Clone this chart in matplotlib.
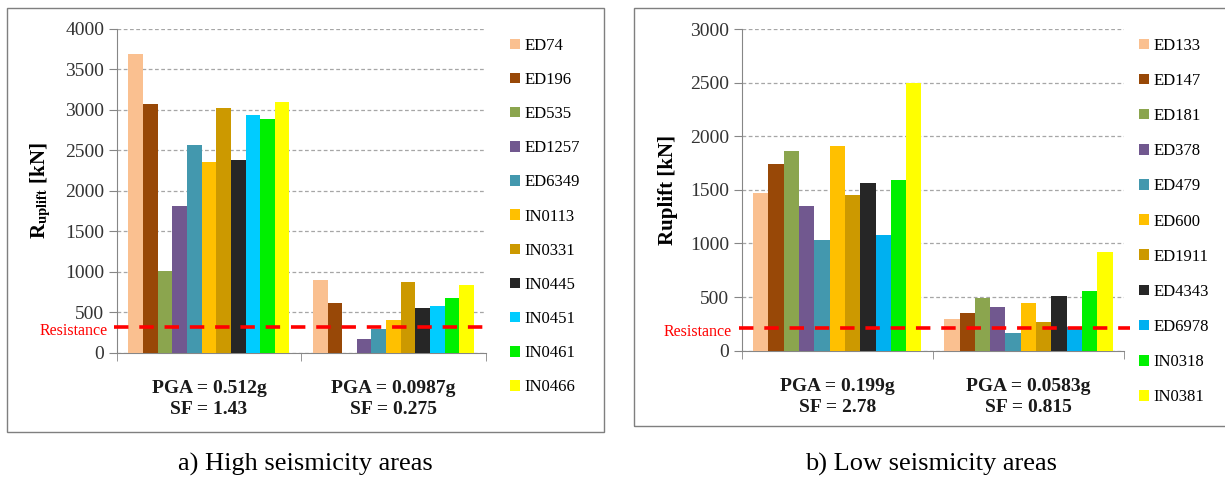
import matplotlib
matplotlib.use("Agg")
import matplotlib.pyplot as plt
from matplotlib.patches import Rectangle
import matplotlib.transforms as mtransforms
import numpy as np

plt.rcParams['font.family'] = ['Liberation Serif', 'DejaVu Serif']
plt.rcParams['mathtext.fontset'] = 'stix'

# ---- data ----
groups_high = ["PGA = 0.512g\nSF = 1.43", "PGA = 0.0987g\nSF = 0.275"]
records_high = ["ED74", "ED196", "ED535", "ED1257", "ED6349", "IN0113",
                "IN0331", "IN0445", "IN0451", "IN0461", "IN0466"]
uplift_high_1 = [3690, 3075, 1013, 1812, 2561, 2359, 3018, 2384, 2932, 2886, 3100]
uplift_high_2 = [894, 617, 0, 165, 296, 404, 869, 548, 577, 679, 836]
resistance_high = 320

groups_low = ["PGA = 0.199g\nSF = 2.78", "PGA = 0.0583g\nSF = 0.815"]
records_low = ["ED133", "ED147", "ED181", "ED378", "ED479", "ED600",
               "ED1911", "ED4343", "ED6978", "IN0318", "IN0381"]
uplift_low_1 = [1468, 1741, 1865, 1352, 1029, 1909, 1449, 1564, 1079, 1592, 2494]
uplift_low_2 = [295, 349, 489, 410, 162, 445, 270, 507, 224, 560, 920]
resistance_low = 215

colors_high = ['#FAC090', '#984807', '#8BA54E', '#71588F', '#4398AE', '#FFC000',
               '#CC9900', '#262626', '#00CCFF', '#00F000', '#FFFF00']
colors_low = ['#FAC090', '#984807', '#8BA54E', '#71588F', '#4398AE', '#FFC000',
              '#CC9900', '#262626', '#00B0F0', '#00F000', '#FFFF00']

W, H = 1225, 479
fig = plt.figure(figsize=(W / 100, H / 100), dpi=100)


def px_axes(x0, y_top, x1, y_bot):
    return fig.add_axes([x0 / W, (H - y_bot) / H, (x1 - x0) / W, (y_bot - y_top) / H])


def draw_panel(ax, groups, records, vals1, vals2, colors, ymax, res, ylabel, occupy):
    n = len(records)
    bw = occupy / n
    x = np.arange(len(groups))
    handles = []
    for i in range(n):
        h = ax.bar(x - occupy / 2 + bw * (i + 0.5), [vals1[i], vals2[i]], bw,
                   color=colors[i], zorder=3)
        handles.append(h)
    ax.set_xlim(-0.5, 1.5)
    ax.set_ylim(0, ymax)
    ax.set_yticks(np.arange(0, ymax + 1, 500))
    ax.yaxis.grid(True, color='#a6a6a6', linestyle=(0, (3, 2)), lw=0.9, zorder=0)
    ax.set_xticks(x)
    ax.set_xticklabels(groups, fontsize=14, fontweight='bold', linespacing=1.25, color='#1a1a1a')
    ax.set_xticks([-0.5, 0.5, 1.5], minor=True)
    ax.tick_params(axis='x', which='major', length=0, pad=20)
    ax.tick_params(axis='x', which='minor', length=6, color='#868686', direction='out')
    ax.tick_params(axis='y', length=6, color='#868686', labelsize=14, labelcolor='#333333', pad=3)
    for s in ['top', 'right']:
        ax.spines[s].set_visible(False)
    for s in ['left', 'bottom']:
        ax.spines[s].set_color('#868686')
    ax.axhline(res, xmin=-0.008, xmax=1.015, color='#FF0000', lw=2.6,
               linestyle=(0, (4, 3)), clip_on=False, zorder=5)
    shift = mtransforms.ScaledTranslation(0, -3 / 72, fig.dpi_scale_trans)
    ax.text(-0.025, res, "Resistance", transform=ax.get_yaxis_transform() + shift,
            color='#FF0000', fontsize=11.5, ha='right', va='center')
    ax.set_ylabel(ylabel, fontsize=15, fontweight='bold', labelpad=9)
    return handles


# left panel
fig.add_artist(Rectangle((7 / W, (H - 432) / H), (604 - 7) / W, (432 - 8) / H,
                         transform=fig.transFigure, fill=False, edgecolor='#7f7f7f', lw=1))
ax1 = px_axes(116.7, 28.7, 485.7, 352.7)
h1 = draw_panel(ax1, groups_high, records_high, uplift_high_1, uplift_high_2, colors_high,
                4000, resistance_high, r'R$_{\mathbf{uplift}}$ [kN]', 0.873)
fig.legend(h1, records_high, loc='upper left', bbox_to_anchor=(503 / W, 1 - 31 / H),
           frameon=False, fontsize=12, handlelength=0.6, handleheight=0.6,
           handletextpad=0.3, labelspacing=1.09, borderaxespad=0)

# right panel
fig.add_artist(Rectangle((634 / W, (H - 426) / H), (1240 - 634) / W, (426 - 8) / H,
                         transform=fig.transFigure, fill=False, edgecolor='#7f7f7f', lw=1,
                         clip_on=False))
ax2 = px_axes(741.7, 29, 1124, 350.7)
h2 = draw_panel(ax2, groups_low, records_low, uplift_low_1, uplift_low_2, colors_low,
                3000, resistance_low, 'Ruplift [kN]', 0.88)
fig.legend(h2, records_low, loc='upper left', bbox_to_anchor=(1132 / W, 1 - 31 / H),
           frameon=False, fontsize=12, handlelength=0.6, handleheight=0.6,
           handletextpad=0.3, labelspacing=1.15, borderaxespad=0)

fig.text(305 / W, 1 - 464 / H, "a) High seismicity areas", fontsize=19, ha='center', va='center')
fig.text(931 / W, 1 - 464 / H, "b) Low seismicity areas", fontsize=19, ha='center', va='center')

fig.savefig("out.png", dpi=100, facecolor='white')
